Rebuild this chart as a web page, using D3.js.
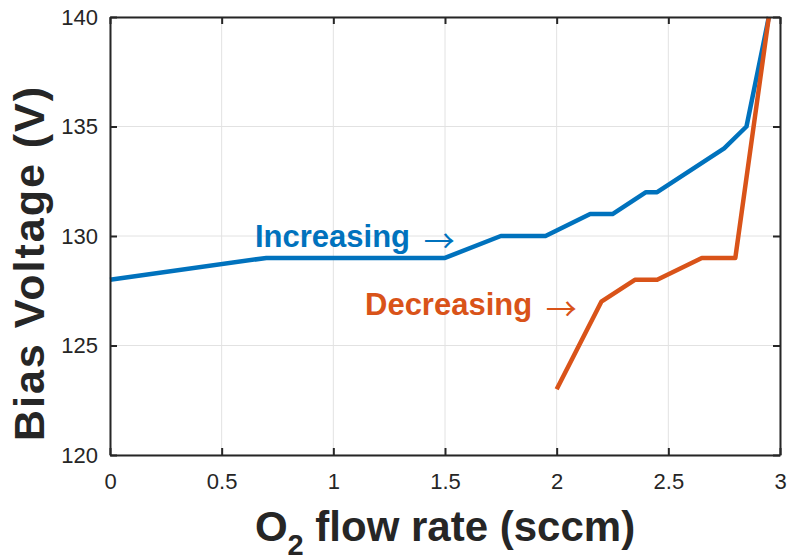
<!DOCTYPE html>
<html>
<head>
<meta charset="utf-8">
<script src="https://cdn.jsdelivr.net/npm/d3@7/dist/d3.min.js"></script>
<style>
  body { margin: 0; background: #fff; }
  svg { display: block; }
</style>
</head>
<body>
<svg id="chart" width="787" height="560"></svg>
<script>
// ---- data ----
const incFlow = [0, 0.7, 1.5, 1.75, 1.95, 2.15, 2.25, 2.4, 2.45, 2.75, 2.85, 2.95];
const incBias = [128, 129, 129, 130, 130, 131, 131, 132, 132, 134, 135, 140];
const decFlow = [2.0, 2.2, 2.35, 2.45, 2.65, 2.8, 2.95];
const decBias = [123, 127, 128, 128, 129, 129, 140];
const xTicks = [0, 0.5, 1, 1.5, 2, 2.5, 3];
const xTickLabels = ["0", "0.5", "1", "1.5", "2", "2.5", "3"];
const yTicks = [120, 125, 130, 135, 140];
const yTickLabels = ["120", "125", "130", "135", "140"];
const seriesNames = ["Increasing", "Decreasing"];
const seriesColors = ["#0072BD", "#D95319"];

// ---- layout ----
const svg = d3.select("#chart");
const L = 110, R = 780, T = 17, B = 455;
const x = d3.scaleLinear().domain([0, 3]).range([L, R]);
const y = d3.scaleLinear().domain([120, 140]).range([B, T]);
const axisColor = "#262626";
const font = "'Liberation Sans', Arial, Helvetica, sans-serif";

// grid
const grid = svg.append("g");
grid.selectAll("line.vx").data(xTicks).enter().append("line")
  .attr("x1", d => x(d)).attr("x2", d => x(d)).attr("y1", T).attr("y2", B)
  .attr("stroke", "#e2e2e2").attr("stroke-width", 1);
grid.selectAll("line.hy").data(yTicks).enter().append("line")
  .attr("y1", d => y(d)).attr("y2", d => y(d)).attr("x1", L).attr("x2", R)
  .attr("stroke", "#e2e2e2").attr("stroke-width", 1);

// lines
const incData = incFlow.map((f, i) => [f, incBias[i]]);
const decData = decFlow.map((f, i) => [f, decBias[i]]);
const line = d3.line().x(d => x(d[0])).y(d => y(d[1]));
svg.append("path").datum(incData).attr("d", line)
  .attr("fill", "none").attr("stroke", seriesColors[0]).attr("stroke-width", 4.5)
  .attr("stroke-linejoin", "round");
svg.append("path").datum(decData).attr("d", line)
  .attr("fill", "none").attr("stroke", seriesColors[1]).attr("stroke-width", 4.5)
  .attr("stroke-linejoin", "round");

// axes (MATLAB-style box with inward ticks)
const tickLen = 7;
const xAxisB = d3.axisBottom(x).tickValues(xTicks).tickSizeInner(-tickLen).tickSizeOuter(0)
  .tickFormat((d, i) => xTickLabels[i]).tickPadding(18);
const xAxisT = d3.axisTop(x).tickValues(xTicks).tickSizeInner(-tickLen).tickSizeOuter(0).tickFormat("");
const yAxisL = d3.axisLeft(y).tickValues(yTicks).tickSizeInner(-tickLen).tickSizeOuter(0)
  .tickFormat((d, i) => yTickLabels[i]).tickPadding(12);
const yAxisR = d3.axisRight(y).tickValues(yTicks).tickSizeInner(-tickLen).tickSizeOuter(0).tickFormat("");

function style(g) {
  g.select(".domain").attr("stroke", axisColor).attr("stroke-width", 2);
  g.selectAll(".tick line").attr("stroke", axisColor).attr("stroke-width", 2);
  g.selectAll(".tick text").attr("fill", axisColor).style("font-family", font).style("font-size", "22px");
}
svg.append("g").attr("transform", `translate(0,${B})`).call(xAxisB).call(style);
svg.append("g").attr("transform", `translate(0,${T})`).call(xAxisT).call(style);
svg.append("g").attr("transform", `translate(${L},0)`).call(yAxisL).call(style);
svg.append("g").attr("transform", `translate(${R},0)`).call(yAxisR).call(style);

// annotations
function label(name, color, xPos, yPos) {
  const t = svg.append("text").attr("x", xPos).attr("y", yPos)
    .attr("fill", color).style("font-family", font).style("font-size", "31px");
  t.append("tspan").style("font-weight", "bold").text(name + " ");
  t.append("tspan").style("font-weight", "normal")
    .style("font-family", "'Noto Sans CJK SC', 'DejaVu Sans', sans-serif")
    .style("font-size", "31px").attr("dx", 5).attr("dy", 5).text("\u2192");
}
label(seriesNames[0], seriesColors[0], 255, 247);
label(seriesNames[1], seriesColors[1], 365, 315);

// axis titles
const xt = svg.append("text").attr("x", (L + R) / 2).attr("y", 541)
  .attr("text-anchor", "middle").attr("fill", axisColor)
  .style("font-family", font).style("font-size", "42px").style("font-weight", "bold");
xt.append("tspan").text("O");
xt.append("tspan").attr("dy", 14).style("font-size", "29px").text("2");
xt.append("tspan").attr("dy", -14).text(" flow rate (sccm)");

svg.append("text").attr("transform", `translate(44,263) rotate(-90)`)
  .attr("text-anchor", "middle").attr("fill", axisColor)
  .style("font-family", font).style("font-size", "43px").style("font-weight", "bold")
  .style("letter-spacing", "2px")
  .text("Bias Voltage (V)");
</script>
</body>
</html>
